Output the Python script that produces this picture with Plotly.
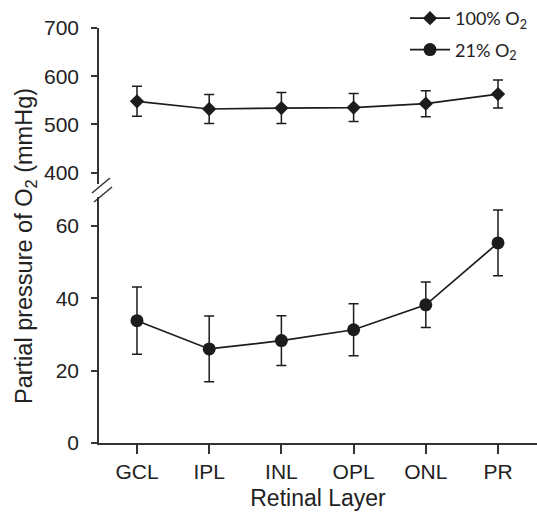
import plotly.graph_objects as go

layers = ["GCL", "IPL", "INL", "OPL", "ONL", "PR"]
o2_100 = [548, 532, 534, 535, 543, 563]
o2_100_err = [31, 30, 32, 29, 27, 29]
o2_21 = [33.8, 26.0, 28.3, 31.3, 38.2, 55.3]
o2_21_err = [9.3, 9.1, 6.9, 7.2, 6.3, 9.1]
upper_ticks = [400, 500, 600, 700]
lower_ticks = [0, 20, 40, 60]

W, H = 537, 522
ML, MR, MT, MB = 99, 0, 28, 79
PW, PH = W - ML - MR, H - MT - MB

def px(xp):
    return (xp - ML) / PW

def py(yp):
    return (H - MB - yp) / PH

ink = "#1c1c1c"
font_main = "Liberation Sans, Arial, sans-serif"
font_leg = "Lato, Open Sans, sans-serif"

fig = go.Figure()
fig.add_trace(go.Scatter(
    x=layers, y=o2_100, yaxis="y2", name="100% O<sub>2</sub>",
    mode="lines+markers", legendgroup="a",
    line=dict(color=ink, width=1.7),
    marker=dict(symbol="diamond", size=11, color=ink),
    error_y=dict(type="data", array=o2_100_err, color=ink, thickness=1.5, width=5),
))
fig.add_trace(go.Scatter(
    x=layers, y=o2_21, yaxis="y", name="21% O<sub>2</sub>",
    mode="lines+markers", legendgroup="b",
    line=dict(color=ink, width=1.7),
    marker=dict(symbol="circle", size=13, color=ink),
    error_y=dict(type="data", array=o2_21_err, color=ink, thickness=1.5, width=5),
))

axis_common = dict(
    showline=True, linecolor="#333", linewidth=1.5, ticks="outside",
    ticklen=6, tickwidth=1.5, tickcolor="#333", showgrid=False, zeroline=False,
    tickfont=dict(family=font_main, size=21, color="#222"), automargin=False,
)

lower_top = py(197)
upper_bot = py(184)

fig.update_layout(
    width=W, height=H,
    margin=dict(l=ML, r=MR, t=MT, b=MB, autoexpand=False),
    paper_bgcolor="white", plot_bgcolor="white",
    xaxis=dict(
        type="category", range=[-0.526, 5.54],
        showline=True, linecolor="#333", linewidth=1.5, ticks="outside",
        ticklen=9, tickwidth=1.5, tickcolor="#333", showgrid=False,
        tickfont=dict(family=font_main, size=21, color="#222"),
        title=dict(text="Retinal Layer", font=dict(family=font_main, size=23, color="#222"), standoff=8),
        anchor="y", automargin=False,
    ),
    yaxis=dict(domain=[0, lower_top], range=[0, 68], tickvals=lower_ticks,
               ticklabelstandoff=8, anchor="x", **axis_common),
    yaxis2=dict(domain=[upper_bot, 1], range=[376.5, 700], tickvals=upper_ticks,
                ticklabelstandoff=8, anchor="x", **axis_common),
    showlegend=True,
    legend=dict(
        x=px(405), xanchor="left", y=py(0), yanchor="top",
        font=dict(family=font_leg, size=18, color="#222"),
        bgcolor="rgba(0,0,0,0)", tracegroupgap=5, traceorder="grouped",
        itemwidth=40,
    ),
    annotations=[dict(
        text="Partial pressure of O<sub>2</sub> (mmHg)", textangle=-90,
        xref="paper", yref="paper", x=px(25), y=py(246),
        xanchor="center", yanchor="middle",
        showarrow=False, font=dict(family=font_main, size=23.5, color="#222"),
    )],
    shapes=[
        dict(type="line", xref="paper", yref="paper",
             x0=px(92), y0=py(193), x1=px(110), y1=py(178),
             line=dict(color="#333", width=1.5)),
        dict(type="line", xref="paper", yref="paper",
             x0=px(94), y0=py(202), x1=px(112), y1=py(187),
             line=dict(color="#333", width=1.5)),
    ],
)

fig.write_html(
    "out.html",
    config={"displayModeBar": False},
    post_script="document.body.style.margin='0px';document.body.style.overflow='hidden';",
)
